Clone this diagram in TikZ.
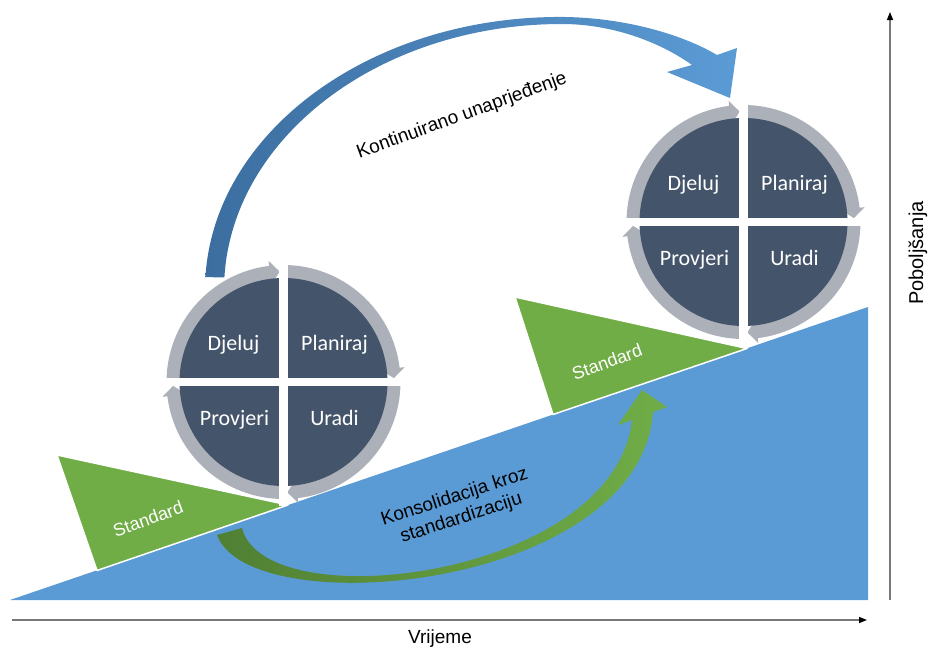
\documentclass[tikz,border=0pt]{standalone}
\usepackage{fontspec}
\setmainfont{Liberation Sans}
\newfontfamily\qfont{Carlito}
\usetikzlibrary{arrows.meta}
\definecolor{bluetri}{RGB}{91,155,213}
\definecolor{bluedark}{RGB}{60,110,160}
\definecolor{greentri}{RGB}{112,173,71}
\definecolor{greendark}{RGB}{80,128,52}
\definecolor{quaddark}{RGB}{68,84,106}
\definecolor{ringgray}{RGB}{172,176,184}
\definecolor{axisgray}{RGB}{120,120,120}
\tikzset{
  lbl/.style={font=\fontsize{19}{22}\selectfont, text=black, inner sep=0pt},
  stdlbl/.style={font=\fontsize{18}{21}\selectfont, text=white, inner sep=0pt},
  qlbl/.style={font=\qfont\fontsize{22}{26}\selectfont, text=white, anchor=base, inner sep=0pt},
  axisline/.style={draw=axisgray, line width=1.4pt, -{Triangle[length=8pt,width=6pt,color=black]}},
  stdtri/.style={fill=greentri, draw=white, line width=1.5pt, line join=round},
}
\newcommand{\pdcacycle}[2]{%
  \begin{scope}[shift={#1}]
    \foreach \s in {0,90,180,270} {
      \fill[ringgray] (\s:117) arc[start angle=\s, end angle=\s+83, radius=117]
        -- ({\s+83}:122) -- ({\s+88}:110.5) -- ({\s+83}:98) -- ({\s+83}:103.5)
        arc[start angle=\s+83, end angle=\s, radius=103.5] -- cycle;
    }
    \fill[quaddark] (0,0) circle[radius=104];
    \draw[white, line width=8.5pt] (-124,0) -- (124,0) (0,-124) -- (0,124);
    \node[qlbl] (#2-act)  at (-50,-32) {Djeluj};
    \node[qlbl] (#2-plan) at (51,-32) {Planiraj};
    \node[qlbl] (#2-chk)  at (-49,43) {Provjeri};
    \node[qlbl] (#2-do)   at (51,43) {Uradi};
  \end{scope}
}
\begin{document}
\begin{tikzpicture}[x=1pt,y=-1pt]
  \useasboundingbox (0,0) rectangle (930,648);
  % slope
  \fill[bluetri] (10,600) -- (868,307) -- (868,600) -- cycle;
  % standard wedges
  \path[stdtri] (57,455) -- (97,570.5) -- (288,505) -- cycle;
  \path[stdtri] (515,297) -- (553,414.5) -- (747,348.5) -- cycle;
  % consolidation arrow
  \shade[left color=greendark, right color=greentri]
    (217,535) .. controls (250,625) and (640,590) .. (653,412)
    -- (667,407) -- (642,390) -- (618,425) -- (632,420)
    .. controls (615,578) and (265,620) .. (242,528) -- cycle;
  % improvement arrow
  \shade[left color=bluedark, right color=bluetri]
    (205.4,277.1) arc[start angle=182.7, end angle=270, x radius=355, y radius=273]
    .. controls (620,17) and (680,33) .. (717,55)
    -- (737,48) -- (730,98) -- (667,72) -- (692,65)
    .. controls (660,42) and (612,24) .. (562,24)
    arc[start angle=270, end angle=182.7, x radius=338, y radius=266] -- cycle;
  % PDCA cycles
  \pdcacycle{(283.5,382)}{L}
  \pdcacycle{(743.5,222)}{R}
  % labels
  \node[stdlbl, rotate=20] (stdL) at (148,519) {Standard};
  \node[stdlbl, rotate=20] (stdR) at (607,362) {Standard};
  \node[lbl, rotate=20] (kont) at (462,116) {Kontinuirano unaprjeđenje};
  \node[lbl, rotate=18, align=center] (kons) at (458,508) {Konsolidacija kroz\\standardizaciju};
  % axes
  \coordinate (xs) at (12,620);
  \coordinate (xe) at (867,620);
  \coordinate (ys) at (890,600);
  \coordinate (ye) at (890,12);
  \draw[axisline] (xs) -- (xe);
  \draw[axisline] (ys) -- (ye);
  \node[lbl, anchor=base] (vrij) at (440,643) {Vrijeme};
  \node[lbl, font=\fontsize{20}{24}\selectfont, rotate=90] (pob) at (918,253) {Poboljšanja};
\end{tikzpicture}
\end{document}
